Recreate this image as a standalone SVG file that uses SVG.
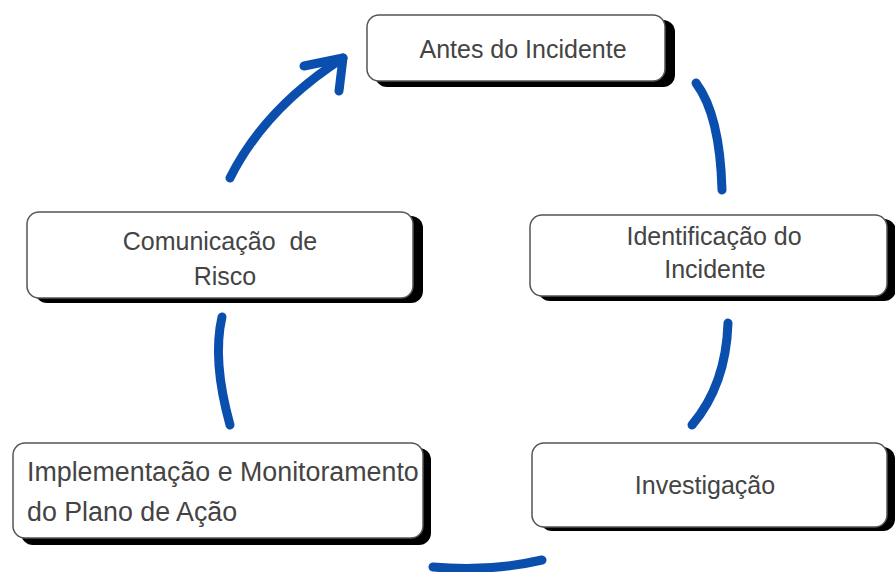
<svg xmlns="http://www.w3.org/2000/svg" width="895" height="572" viewBox="0 0 895 572">
<style>
.sh{fill:#000}
.bx{fill:#fff;stroke:#555;stroke-width:1.5}
.t{font-family:"Liberation Sans","DejaVu Sans",sans-serif;font-size:25px;fill:#444;text-anchor:middle}
.c{fill:none;stroke:#0b4fae;stroke-width:9;stroke-linecap:round;stroke-linejoin:round}
</style>
<rect width="895" height="572" fill="#fff"/>
<g id="connectors">
<path class="c" d="M230,178 Q265,108 343,58"/>
<polyline class="c" points="304,66 343,58 339,91"/>
<path class="c" d="M696,83 Q720,115 722,190"/>
<path class="c" d="M728,323 Q726,385 692,425"/>
<path class="c" d="M222,317 Q212,360 230,425"/>
<path class="c" d="M433,567 Q490,572 542,560"/>
</g>
<g id="n-antes">
<rect class="sh" x="375" y="20" width="300" height="67" rx="12"/>
<rect class="bx" x="367" y="15" width="298" height="66" rx="12"/>
<text class="t" x="523" y="58">Antes do Incidente</text>
</g>
<g id="n-identificacao">
<rect class="sh" x="538" y="219" width="358" height="82" rx="12"/>
<rect class="bx" x="530" y="215" width="357" height="81" rx="12"/>
<text class="t" x="714" y="245">Identificação do</text>
<text class="t" x="715" y="278">Incidente</text>
</g>
<g id="n-investigacao">
<rect class="sh" x="540" y="447" width="355" height="84" rx="12"/>
<rect class="bx" x="532" y="443" width="355" height="84" rx="12"/>
<text class="t" x="705" y="494">Investigação</text>
</g>
<g id="n-implementacao">
<rect class="sh" x="21" y="448" width="410" height="97" rx="12"/>
<rect class="bx" x="13" y="443" width="410" height="95" rx="12"/>
<text class="t" x="27" y="481" style="text-anchor:start;font-size:26.8px">Implementação e Monitoramento</text>
<text class="t" x="27" y="521" style="text-anchor:start;font-size:26.8px">do Plano de Ação</text>
</g>
<g id="n-comunicacao">
<rect class="sh" x="35" y="216" width="388" height="87" rx="12"/>
<rect class="bx" x="27" y="212" width="386" height="86" rx="12"/>
<text class="t" x="220" y="250" xml:space="preserve">Comunicação  de</text>
<text class="t" x="225" y="285">Risco</text>
</g>
</svg>
